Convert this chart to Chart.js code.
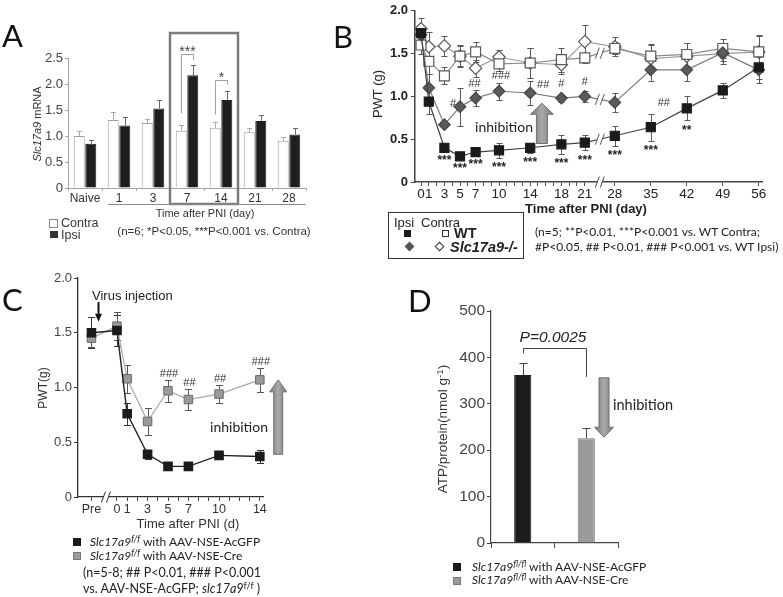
<!DOCTYPE html>
<html><head><meta charset="utf-8">
<script src="https://cdn.jsdelivr.net/npm/chart.js@4.4.1/dist/chart.umd.min.js"></script>
<style>
html,body{margin:0;padding:0;background:#fff;}
#wrap{position:relative;width:783px;height:597px;overflow:hidden;background:#fff;font-family:'Liberation Sans',Arial,sans-serif;}
#wrap canvas{position:absolute;left:0;top:0;}
.t{position:absolute;white-space:nowrap;line-height:1;color:#222;}
.sup{font-size:0.72em;position:relative;top:-0.42em;}
.bx{position:absolute;box-sizing:border-box;}
</style></head><body>
<div id="wrap">
<canvas id="cA" width="783" height="597"></canvas>
<canvas id="cB" width="783" height="597"></canvas>
<canvas id="cC" width="783" height="597"></canvas>
<canvas id="cD" width="783" height="597"></canvas>
</div>
<script>
// ================= DATA =================
// Panel A : Slc17a9 mRNA
const catsA = ['Naive','1','3','7','14','21','28'];
const contraA    = [1.00,1.31,1.25,1.10,1.15,1.07,0.91];
const contraErrA = [0.10,0.15,0.08,0.11,0.11,0.08,0.08];
const ipsiA      = [0.85,1.20,1.53,2.17,1.69,1.29,1.03];
const ipsiErrA   = [0.08,0.16,0.17,0.20,0.17,0.11,0.13];
const yTicksA = [0,0.5,1.0,1.5,2.0,2.5];
const yTickLabelsA = ['0','0.5','1.0','1.5','2.0','2.5'];

// Panel B : PWT (g), WT vs Slc17a9-/-
const daysB = [0,1,3,5,7,10,14,18,21,28,35,42,49,56];
const wtIpsiB      = [1.74,0.94,0.40,0.30,0.35,0.37,0.40,0.44,0.46,0.54,0.64,0.86,1.07,1.34];
const wtIpsiErrB   = [0.05,0.15,0.03,0.03,0.03,0.09,0.06,0.11,0.09,0.12,0.16,0.14,0.09,0.14];
const koIpsiB      = [1.72,1.10,0.67,0.88,0.98,1.06,1.04,0.98,1.00,0.93,1.31,1.31,1.51,1.31];
const koIpsiErrB   = [0.05,0.16,0.03,0.22,0.09,0.10,0.14,0.04,0.06,0.11,0.13,0.13,0.10,0.15];
const wtContraB    = [1.60,1.41,1.24,1.47,1.52,1.38,1.39,1.43,1.45,1.56,1.47,1.49,1.56,1.52];
const wtContraErrB = [0.11,0.15,0.10,0.12,0.12,0.08,0.17,0.14,0.06,0.07,0.14,0.13,0.11,0.19];
const koContraB    = [1.79,1.58,1.59,1.47,1.33,1.46,1.39,1.37,1.64,1.58,1.44,1.47,1.50,1.52];
const koContraErrB = [0.13,0.17,0.12,0.13,0.10,0.08,0.17,0.11,0.19,0.11,0.16,0.15,0.12,0.20];
const tickDaysB  = [0,1,2,3,4,5,6,7,8,9,10,11,12,13,14,15,16,17,18,19,20,21,28,35,42,49,56];
const labelDaysB = [0,1,3,5,7,10,14,18,21,28,35,42,49,56];
const yTicksB = [0,0.5,1.0,1.5,2.0];
const yTickLabelsB = ['0','0.5','1.0','1.5','2.0'];
const starsB = ['','','***','***','***','***','***','***','***','***','***','**','',''];

// Panel C : PWT(g), AAV-NSE-AcGFP vs AAV-NSE-Cre
const daysC = ['Pre',0,1,3,5,7,10,14];
const gfpC    = [1.50,1.52,0.76,0.39,0.28,0.28,0.38,0.37];
const gfpErrC = [0.14,0.14,0.10,0.04,0.02,0.02,0.02,0.06];
const creC    = [1.45,1.56,1.08,0.69,0.97,0.89,0.94,1.07];
const creErrC = [0.08,0.13,0.13,0.12,0.10,0.10,0.08,0.11];
const tickDaysC  = ['Pre',0,1,2,3,4,5,6,7,8,9,10,11,12,13,14];
const labelDaysC = ['Pre',0,1,3,5,7,10,14];
const yTicksC = [0,0.5,1.0,1.5,2.0];
const yTickLabelsC = ['0','0.5','1.0','1.5','2.0'];
const hashC = ['','','','','###','##','##','###'];

// Panel D : ATP/protein
const groupsD = ['AcGFP','Cre'];
const atpD    = [362,226];
const atpErrD = [27,22];
const yTicksD = [0,100,200,300,400,500];
const yTickLabelsD = ['0','100','200','300','400','500'];

// ================= annotation layout (not data) =================
const boxA = [3,4];
const sigA = [{cat:3,text:'***',left:1.44,top:2.58,right:2.46},{cat:4,text:'*',left:1.41,top:2.07,right:1.99}];
const hashB = [{day:5,t:'#',dx:-7,dy:-3},{day:7,t:'##',dx:-1,dy:-14},{day:10,t:'###',dx:2,dy:-15},
               {day:14,t:'##',dx:13,dy:-8},{day:18,t:'#',dx:0,dy:-14},{day:21,t:'#',dx:0,dy:-14},{day:35,t:'##',dx:13,dy:33}];
const arrowB = {u:15.5, from:0.45, to:0.92};
const arrowC = {u:15.8, from:0.39, to:1.07};
const virusC = {u:-1.85, from:1.78, to:1.60};
const arrowD = {c:1.28, from:356, to:228};
const bracketD = {left:409, top:420, right:358};

// broken-axis mappings
const uB = d => d <= 21 ? d : 24.85 + (d - 28) * 0.659;
const uC = d => d === 'Pre' ? -2.5 : d;

const FF = "'Liberation Sans', Arial, sans-serif";
Chart.defaults.font.family = FF;

// ================= helpers =================
function drawErr(chart, phase){
  const ctx = chart.ctx;
  chart.data.datasets.forEach((ds,i)=>{
    if(!ds.errors || (ds.errPhase||'before') !== phase) return;
    const meta = chart.getDatasetMeta(i); const ys = chart.scales[meta.yAxisID];
    ctx.save(); ctx.strokeStyle = ds.errColor; ctx.lineWidth = 1;
    meta.data.forEach((el,j)=>{
      const e = ds.errors[j]; if(e == null) return;
      const raw = ds.data[j]; const v = (typeof raw === 'object') ? raw.y : raw;
      const x = Math.round(el.x) + 0.5;
      const yT = Math.round(ys.getPixelForValue(v + e)) + 0.5;
      const yB = ds.errDir === 'up' ? ys.getPixelForValue(v) : Math.round(ys.getPixelForValue(v - e)) + 0.5;
      const c = ds.capW / 2;
      ctx.beginPath(); ctx.moveTo(x, yB); ctx.lineTo(x, yT);
      ctx.moveTo(x - c, yT); ctx.lineTo(x + c, yT);
      if(ds.errDir !== 'up'){ ctx.moveTo(x - c, yB); ctx.lineTo(x + c, yB); }
      ctx.stroke();
    });
    ctx.restore();
  });
}
const errPlugin = {id:'errbars', beforeDatasetsDraw(c){drawErr(c,'before');}, afterDatasetsDraw(c){drawErr(c,'after');}};

function bigArrow(ctx, x, y0, y1, sw, hw, hh){
  const s = y1 < y0 ? 1 : -1; const yh = y1 + s*hh;
  const g = ctx.createLinearGradient(x - hw/2, 0, x + hw/2, 0);
  g.addColorStop(0,'#7a7a7a'); g.addColorStop(0.5,'#a9a9a9'); g.addColorStop(1,'#7a7a7a');
  ctx.beginPath();
  ctx.moveTo(x - sw/2, y0); ctx.lineTo(x - sw/2, yh); ctx.lineTo(x - hw/2, yh); ctx.lineTo(x, y1);
  ctx.lineTo(x + hw/2, yh); ctx.lineTo(x + sw/2, yh); ctx.lineTo(x + sw/2, y0); ctx.closePath();
  ctx.fillStyle = g; ctx.fill(); ctx.strokeStyle = '#6f6f6f'; ctx.lineWidth = 1; ctx.stroke();
}
function brk(ctx, x, y, h, color){
  ctx.save();
  ctx.fillStyle = '#fff'; ctx.beginPath();
  ctx.moveTo(x-4.5, y+h/2); ctx.lineTo(x-0.5, y-h/2); ctx.lineTo(x+4.5, y-h/2); ctx.lineTo(x+0.5, y+h/2); ctx.closePath(); ctx.fill();
  ctx.strokeStyle = color; ctx.lineWidth = 1;
  ctx.beginPath(); ctx.moveTo(x-4.5, y+h/2); ctx.lineTo(x-0.5, y-h/2); ctx.moveTo(x+0.5, y+h/2); ctx.lineTo(x+4.5, y-h/2); ctx.stroke();
  ctx.restore();
}
function baseOpts(pad){
  return {responsive:false, animation:false, events:[], layout:{padding:pad},
    plugins:{legend:{display:false}, tooltip:{enabled:false}}};
}
function yAxis(o){
  return {min:o.min, max:o.max,
    afterBuildTicks:s=>{ s.ticks = o.ticks.map(v=>({value:v})); },
    ticks:{callback:(v,i)=>o.labels[i], font:o.font, color:o.color, padding:o.pad, autoSkip:false},
    grid:{display:true, drawOnChartArea:false, drawTicks:true, tickLength:o.tl, color:o.axis, lineWidth:1},
    border:{display:true, color:o.axis, width:o.bw||1},
    afterFit:s=>{ s.width = o.width; }};
}

// ================= PANEL A =================
const extrasA = {id:'exA', afterDraw(chart){
  const {ctx, chartArea:ca, scales:{x,y}} = chart;
  const cw = x.getPixelForValue(1) - x.getPixelForValue(0);
  ctx.save();
  const bx1 = x.getPixelForValue(boxA[0]) - cw/2, bx2 = x.getPixelForValue(boxA[1]) + cw/2;
  ctx.strokeStyle = '#7b7b7b'; ctx.lineWidth = 2.5;
  ctx.strokeRect(bx1, ca.top - 25, bx2 - bx1, (ca.bottom + 16) - (ca.top - 25));
  ctx.strokeStyle = '#8a8a8a'; ctx.lineWidth = 1;
  ctx.beginPath(); ctx.moveTo(x.getPixelForValue(1) - 11, ca.bottom + 16.5); ctx.lineTo(ca.right, ca.bottom + 16.5); ctx.stroke();
  sigA.forEach(s=>{
    const m0 = chart.getDatasetMeta(0).data[s.cat], m1 = chart.getDatasetMeta(1).data[s.cat];
    const xl = Math.round(m0.x) + .5, xr = Math.round(m1.x) + .5;
    const yt = Math.round(y.getPixelForValue(s.top)) + .5;
    ctx.strokeStyle = '#a0a0a0'; ctx.lineWidth = 1;
    ctx.beginPath(); ctx.moveTo(xl, y.getPixelForValue(s.left)); ctx.lineTo(xl, yt); ctx.lineTo(xr, yt); ctx.lineTo(xr, y.getPixelForValue(s.right)); ctx.stroke();
    ctx.fillStyle = '#444'; ctx.font = "14px " + FF; ctx.textAlign = 'center'; ctx.textBaseline = 'middle';
    ctx.fillText(s.text, (xl + xr)/2, yt - 2.5);
  });
  ctx.restore();
}};
new Chart(document.getElementById('cA'), {
  type:'bar',
  data:{labels:catsA, datasets:[
    {label:'Contra', data:contraA, backgroundColor:'#ffffff', borderColor:'#9e9e9e', borderWidth:1,
     categoryPercentage:0.68, barPercentage:0.95, errors:contraErrA, errDir:'up', errColor:'#a8a8a8', capW:5, errPhase:'after'},
    {label:'Ipsi', data:ipsiA, backgroundColor:'#1e1e1e', borderColor:'#1e1e1e', borderWidth:1,
     categoryPercentage:0.68, barPercentage:0.95, errors:ipsiErrA, errDir:'up', errColor:'#666', capW:5, errPhase:'after'}
  ]},
  options:Object.assign(baseOpts({left:28, top:58, right:477, bottom:389}), {scales:{
    x:{grid:{display:true, drawOnChartArea:false, drawTicks:true, tickLength:3, offset:true, color:'#aaa'},
       border:{display:true, color:'#a5a5a5', width:1},
       ticks:{font:{size:12}, color:'#333', padding:0, maxRotation:0, autoSkip:false},
       afterFit:s=>{ s.height = 20; }},
    y:yAxis({min:0, max:2.5, ticks:yTicksA, labels:yTickLabelsA, font:{size:13}, color:'#444', pad:2, tl:3, axis:'#a5a5a5', width:40})
  }}),
  plugins:[errPlugin, extrasA]
});

// ================= PANEL B =================
function mkB(vals, errs, st){
  return Object.assign({data:daysB.map((d,i)=>({x:uB(d), y:vals[i]})), errors:errs, errDir:'both', errColor:'#595959', capW:6,
    borderWidth:1.2, tension:0, pointBorderWidth:1.2, clip:false}, st);
}
const extrasB = {id:'exB', afterDraw(chart){
  const {ctx, chartArea:ca, scales:{x,y}} = chart;
  ctx.save(); ctx.textAlign = 'center'; ctx.textBaseline = 'middle'; ctx.fillStyle = '#222';
  ctx.font = "bold 12px " + FF;
  const m0 = chart.getDatasetMeta(0).data, m1 = chart.getDatasetMeta(1).data, m2 = chart.getDatasetMeta(2).data;
  starsB.forEach((t,i)=>{ if(!t) return; ctx.fillText(t, m0[i].x, y.getPixelForValue(wtIpsiB[i] - wtIpsiErrB[i]) + 10); });
  ctx.font = "11px " + FF; ctx.fillStyle = '#333';
  hashB.forEach(h=>{ const i = daysB.indexOf(h.day); ctx.fillText(h.t, m1[i].x + h.dx, m1[i].y + h.dy); });
  bigArrow(ctx, x.getPixelForValue(arrowB.u), y.getPixelForValue(arrowB.from), y.getPixelForValue(arrowB.to), 11, 23, 11);
  const bu = (uB(21) + uB(28)) / 2, bx = x.getPixelForValue(bu);
  const i21 = daysB.indexOf(21), i28 = daysB.indexOf(28);
  [m0, m1, m2].forEach(m=>{ brk(ctx, bx, (m[i21].y + m[i28].y)/2, 11, '#555'); });
  brk(ctx, bx, ca.bottom, 11, '#444');
  ctx.restore();
}};
new Chart(document.getElementById('cB'), {
  type:'line',
  data:{datasets:[
    mkB(wtIpsiB, wtIpsiErrB, {pointStyle:'rect', pointRadius:6.4, pointBackgroundColor:'#1b1b1b', pointBorderColor:'#1b1b1b', borderColor:'#444'}),
    mkB(koIpsiB, koIpsiErrB, {pointStyle:'rectRot', pointRadius:5.8, pointBackgroundColor:'#5a5a5a', pointBorderColor:'#454545', borderColor:'#7a7a7a'}),
    mkB(wtContraB, wtContraErrB, {pointStyle:'rect', pointRadius:7, pointBackgroundColor:'#ffffff', pointBorderColor:'#5a5a5a', borderColor:'#8a8a8a'}),
    mkB(koContraB, koContraErrB, {pointStyle:'rectRot', pointRadius:6.2, pointBackgroundColor:'#ffffff', pointBorderColor:'#5a5a5a', borderColor:'#999'})
  ]},
  options:Object.assign(baseOpts({left:370, top:7, right:21, bottom:393}), {scales:{
    x:{type:'linear', min:-0.77, max:43.72,
       afterBuildTicks:s=>{ s.ticks = tickDaysB.map(d=>({value:uB(d)})); },
       ticks:{callback:(v,i)=>labelDaysB.includes(tickDaysB[i]) ? String(tickDaysB[i]) : '', font:{size:13.5}, color:'#222', padding:0, autoSkip:false, maxRotation:0, minRotation:0},
       grid:{display:true, drawOnChartArea:false, drawTicks:true, tickLength:4, color:'#555'},
       border:{display:true, color:'#444', width:1.5},
       afterFit:s=>{ s.height = 22; }},
    y:yAxis({min:0, max:2, ticks:yTicksB, labels:yTickLabelsB, font:{size:13, weight:'bold'}, color:'#222', pad:3, tl:4, axis:'#444', bw:1.5, width:45})
  }}),
  plugins:[errPlugin, extrasB]
});

// ================= PANEL C =================
const extrasC = {id:'exC', afterDraw(chart){
  const {ctx, chartArea:ca, scales:{x,y}} = chart;
  ctx.save(); ctx.textAlign = 'center'; ctx.textBaseline = 'middle'; ctx.fillStyle = '#333';
  ctx.font = "11px " + FF;
  const m1 = chart.getDatasetMeta(1).data;
  hashC.forEach((t,i)=>{ if(!t) return; ctx.fillText(t, m1[i].x + 1, y.getPixelForValue(creC[i] + creErrC[i]) - 6); });
  bigArrow(ctx, x.getPixelForValue(arrowC.u), y.getPixelForValue(arrowC.from), y.getPixelForValue(arrowC.to), 9, 17, 12);
  const vx = Math.round(x.getPixelForValue(virusC.u)) + .5, vy0 = y.getPixelForValue(virusC.from), vy1 = y.getPixelForValue(virusC.to);
  ctx.strokeStyle = '#111'; ctx.lineWidth = 2; ctx.beginPath(); ctx.moveTo(vx, vy0); ctx.lineTo(vx, vy1 - 6); ctx.stroke();
  ctx.fillStyle = '#111'; ctx.beginPath(); ctx.moveTo(vx - 3.5, vy1 - 8); ctx.lineTo(vx + 3.5, vy1 - 8); ctx.lineTo(vx, vy1); ctx.closePath(); ctx.fill();
  brk(ctx, x.getPixelForValue(-1.08), ca.bottom, 11, '#333');
  ctx.restore();
}};
new Chart(document.getElementById('cC'), {
  type:'line',
  data:{datasets:[
    {data:daysC.map((d,i)=>({x:uC(d), y:gfpC[i]})), errors:gfpErrC, errDir:'both', errColor:'#333', capW:7,
     borderColor:'#222', borderWidth:1.4, tension:0, pointStyle:'rect', pointRadius:5.8, pointBackgroundColor:'#1b1b1b', pointBorderColor:'#1b1b1b', clip:false},
    {data:daysC.map((d,i)=>({x:uC(d), y:creC[i]})), errors:creErrC, errDir:'both', errColor:'#555', capW:7,
     borderColor:'#a8a8a8', borderWidth:1.2, tension:0, pointStyle:'rect', pointRadius:6, pointBackgroundColor:'#9a9a9a', pointBorderColor:'#6a6a6a', pointBorderWidth:1, clip:false}
  ]},
  options:Object.assign(baseOpts({left:38, top:278, right:520, bottom:78}), {scales:{
    x:{type:'linear', min:-3.82, max:14.31,
       afterBuildTicks:s=>{ s.ticks = tickDaysC.map(d=>({value:uC(d)})); },
       ticks:{callback:(v,i)=>labelDaysC.includes(tickDaysC[i]) ? String(tickDaysC[i]) : '', font:{size:12.5}, color:'#333', padding:1, autoSkip:false, maxRotation:0, minRotation:0},
       grid:{display:true, drawOnChartArea:false, drawTicks:true, tickLength:4, color:'#444'},
       border:{display:true, color:'#333', width:1.3},
       afterFit:s=>{ s.height = 22; }},
    y:yAxis({min:0, max:2, ticks:yTicksC, labels:yTickLabelsC, font:{size:13}, color:'#444', pad:2, tl:4, axis:'#333', bw:1.3, width:40})
  }}),
  plugins:[errPlugin, extrasC]
});

// ================= PANEL D =================
const extrasD = {id:'exD', afterDraw(chart){
  const {ctx, scales:{x,y}} = chart;
  const m = chart.getDatasetMeta(0).data;
  ctx.save();
  const xl = Math.round(m[0].x) + .5, xr = Math.round(m[1].x) + .5, yt = Math.round(y.getPixelForValue(bracketD.top)) + .5;
  ctx.strokeStyle = '#444'; ctx.lineWidth = 1;
  ctx.beginPath(); ctx.moveTo(xl, y.getPixelForValue(bracketD.left)); ctx.lineTo(xl, yt); ctx.lineTo(xr, yt); ctx.lineTo(xr, y.getPixelForValue(bracketD.right)); ctx.stroke();
  bigArrow(ctx, x.getPixelForValue(arrowD.c), y.getPixelForValue(arrowD.from), y.getPixelForValue(arrowD.to), 10, 19, 10);
  ctx.restore();
}};
new Chart(document.getElementById('cD'), {
  type:'bar',
  data:{labels:groupsD, datasets:[
    {data:atpD, backgroundColor:['#1c1c1c','#9b9b9b'], borderColor:['#1c1c1c','#777'], borderWidth:1,
     categoryPercentage:1, barPercentage:0.27, errors:atpErrD, errDir:'up', errColor:'#444', capW:8, errPhase:'after'}
  ]},
  options:Object.assign(baseOpts({left:441, top:311, right:165, bottom:44}), {scales:{
    x:{grid:{display:true, drawOnChartArea:false, drawTicks:true, tickLength:5, offset:true, color:'#444'},
       border:{display:true, color:'#444', width:1.2},
       ticks:{display:false},
       afterFit:s=>{ s.height = 10; }},
    y:yAxis({min:0, max:500, ticks:yTicksD, labels:yTickLabelsD, font:{size:15.5}, color:'#444', pad:2, tl:4, axis:'#444', bw:1.2, width:50})
  }}),
  plugins:[errPlugin, extrasD]
});

// ================= static text =================
const wrap = document.getElementById('wrap');
function T(html, x, y, css, ax){
  const d = document.createElement('div'); d.className = 't'; d.innerHTML = html;
  d.style.cssText += css; d.style.left = x + 'px'; d.style.top = y + 'px';
  d.style.transform = 'translate(' + (-(ax||0)*100) + '%,-50%)'; wrap.appendChild(d); return d;
}
function TR(html, x, y, css){
  const d = T(html, x, y, css, 0.5); d.style.transform = 'translate(-50%,-50%) rotate(-90deg)'; return d;
}
function B(x, y, w, h, css){
  const d = document.createElement('div'); d.className = 'bx';
  d.style.cssText = 'left:' + x + 'px;top:' + y + 'px;width:' + w + 'px;height:' + h + 'px;' + css; wrap.appendChild(d); return d;
}
const LET = "font-family:Lato,'Open Sans',sans-serif;font-size:31px;color:#111;";
const LAT = "font-family:Lato,'Open Sans',sans-serif;";

// A
T('A', 2, 35, LET, 0);
TR('<i>Slc17a9</i> mRNA', 37, 124, 'font-size:11px;color:#333;');
T('Time after PNI (day)', 205, 213, 'font-size:11px;color:#333;', 0.5);
T('(n=6; *P&lt;0.05, ***P&lt;0.001 vs. Contra)', 214, 232, 'font-size:11.5px;color:#333;', 0.5);
B(49, 219, 9, 9, 'border:1px solid #888;background:#fff;');
T('Contra', 61, 223, 'font-size:12.5px;color:#333;', 0);
B(50, 231, 8, 7, 'background:#333;');
T('Ipsi', 61, 234.5, 'font-size:12.5px;color:#333;', 0);

// B
T('B', 333, 36, LET, 0);
TR('PWT (g)', 377, 94, 'font-size:13px;color:#222;');
T('Time after PNI (day)', 586, 208, 'font-size:13px;font-weight:bold;color:#222;', 0.5);
T('inhibition', 504, 127, LAT + 'font-size:14px;color:#222;', 0.5);
T('(n=5; **P&lt;0.01, ***P&lt;0.001 vs. WT Contra;', 535, 232, LAT + 'font-size:12px;color:#222;', 0);
T('#P&lt;0.05, ## P&lt;0.01, ### P&lt;0.001 vs. WT Ipsi)', 535, 247, LAT + 'font-size:12px;color:#222;', 0);
B(388, 212, 136, 47, 'border:1.5px solid #333;background:transparent;');
T('Ipsi', 394, 222, 'font-size:13px;color:#222;', 0);
T('Contra', 421, 222, 'font-size:13px;color:#222;', 0);
B(404, 230, 7, 7, 'background:#1b1b1b;');
B(442, 230, 7, 7, 'border:1px solid #333;background:#fff;');
T('WT', 454, 233, 'font-size:14.5px;font-weight:bold;color:#222;', 0);
B(405.5, 242.5, 7, 7, 'background:#555;transform:rotate(45deg);');
B(436, 242.5, 7, 7, 'border:1px solid #333;background:#fff;transform:rotate(45deg);');
T('<i>Slc17a9-/-</i>', 450, 247, 'font-size:14.5px;font-weight:bold;color:#222;', 0);

// C
T('C', 2, 299, LET, 0);
T('Virus injection', 92, 295, 'font-size:13px;color:#222;', 0);
TR('PWT(g)', 43, 388, 'font-size:12px;color:#333;');
T('Time after PNI (d)', 188, 523, 'font-size:13px;color:#333;', 0.5);
T('inhibition', 239, 427, LAT + 'font-size:14px;color:#222;', 0.5);
B(73, 538, 8, 8, 'background:#1b1b1b;');
T('<i>Slc17a9</i><span class="sup"><i>f/f</i></span> with AAV-NSE-AcGFP', 90, 542, LAT + 'font-size:12px;color:#222;', 0);
B(73, 552, 8, 8, 'background:#9a9a9a;border:1px solid #777;');
T('<i>Slc17a9</i><span class="sup"><i>f/f</i></span> with AAV-NSE-Cre', 90, 556, LAT + 'font-size:12px;color:#222;', 0);
T('(n=5-8; ## P&lt;0.01, ### P&lt;0.001', 83, 573, LAT + 'font-size:12.5px;color:#222;', 0);
T('vs. AAV-NSE-AcGFP; <i>slc17a9</i><span class="sup">f/f</span> )', 83, 589, LAT + 'font-size:12.5px;color:#222;', 0);

// D
T('D', 408, 300, LET, 0);
T('<i>P=0.0025</i>', 553, 337, 'font-size:15.5px;color:#222;', 0.5);
T('inhibition', 613, 405, LAT + 'font-size:14.5px;color:#222;', 0);
TR('ATP/protein(nmol g<span class="sup">-1</span>)', 443, 429, 'font-size:13.5px;color:#333;');
B(453, 563, 8, 8, 'background:#1b1b1b;');
T('<i>Slc17a9</i><span class="sup"><i>fl/fl</i></span> with AAV-NSE-AcGFP', 472, 567, LAT + 'font-size:12px;color:#222;', 0);
B(453, 577, 8, 8, 'background:#9a9a9a;border:1px solid #777;');
T('<i>Slc17a9</i><span class="sup"><i>fl/fl</i></span> with AAV-NSE-Cre', 472, 580, LAT + 'font-size:12px;color:#222;', 0);
</script>
</body></html>
